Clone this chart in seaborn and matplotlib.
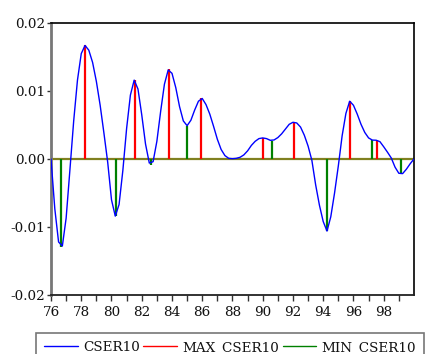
import numpy as np
import pandas as pd
import seaborn as sns
import matplotlib.pyplot as plt
from matplotlib.lines import Line2D

# CSER10, quarterly from 1976Q1 (values x 1e-3)
cser10 = [
    0.0, -7.3, -12.2, -12.8,
    -8.7, -1.6, 5.6, 11.6,
    15.5, 16.7, 16.0, 14.2,
    11.4, 7.9, 3.8, -0.5,
    -6.0, -8.4, -6.7, -1.7,
    4.5, 9.4, 11.6, 10.3,
    6.5, 2.2, -0.6, -0.4,
    2.6, 7.0, 11.0, 13.1,
    12.6, 10.5, 7.7, 5.6,
    4.9, 5.7, 7.2, 8.5,
    8.9, 8.0, 6.6, 4.8,
    2.9, 1.4, 0.5, 0.1,
    0.05, 0.1, 0.25, 0.6,
    1.2, 2.0, 2.6, 3.0,
    3.1, 3.0, 2.75, 2.8,
    3.15, 3.7, 4.4, 5.1,
    5.4, 5.3, 4.7, 3.5,
    1.9, -0.2, -3.8, -6.8,
    -9.2, -10.6, -8.5, -5.0,
    -1.0, 3.4, 6.7, 8.5,
    7.9, 6.6, 5.1, 3.9,
    3.1, 2.78, 2.76, 2.55,
    1.8, 1.0, 0.15, -1.2,
    -2.1, -2.15, -1.5, -0.7,
    0.0,
]

# local maxima / minima (year, value x 1e-3)
max_years = [78.22, 81.53, 83.81, 85.95, 90.0, 92.1, 95.77, 97.55]
max_vals = [16.72, 11.58, 13.17, 8.92, 3.1, 5.43, 8.53, 2.76]
min_years = [76.66, 80.27, 82.6, 84.96, 90.6, 94.28, 97.25, 99.14]
min_vals = [-12.97, -8.43, -0.89, 4.88, 2.7, -10.65, 2.76, -2.27]

df = pd.DataFrame({'year': 76 + np.arange(len(cser10)) / 4,
                   'CSER10': np.array(cser10) / 1000})

sns.set_style('white')
plt.rcParams['font.family'] = ['DejaVu Serif']

fig = plt.figure(figsize=(4.33, 3.54), dpi=100)
ax = fig.add_axes([0.1178, 0.1667, 0.8382, 0.7683])

ax.axhline(0, color='#808020', lw=1.6, zorder=1)
ax.vlines(max_years, 0, np.array(max_vals) / 1000, color='red', lw=1.6, zorder=2)
ax.vlines(min_years, 0, np.array(min_vals) / 1000, color='green', lw=1.6, zorder=2)
sns.lineplot(data=df, x='year', y='CSER10', color='blue', lw=1.0, ax=ax, zorder=3)

ax.set_xlim(76, 100)
ax.set_ylim(-0.02, 0.02)
ax.set_xticks(np.arange(76, 100, 2))
ax.set_xticks(np.arange(76, 100, 1), minor=True)
ax.set_xticklabels([str(y) for y in range(76, 100, 2)])
ax.set_yticks([-0.02, -0.01, 0.0, 0.01, 0.02])
ax.set_yticklabels(['-0.02', '-0.01', '0.00', '0.01', '0.02'])
ax.set_xlabel('')
ax.set_ylabel('')

ax.tick_params(axis='both', which='both', direction='out', labelsize=9.7,
               color='#333333', labelcolor='#111111')
ax.tick_params(axis='y', length=3, width=1, pad=1, left=True)
ax.tick_params(axis='x', which='both', length=4, width=1, pad=4, bottom=True)

for s in ['top', 'right']:
    ax.spines[s].set_color('black')
    ax.spines[s].set_linewidth(1.2)
ax.spines['left'].set_color('#777777')
ax.spines['left'].set_linewidth(2)
ax.spines['bottom'].set_color('#222222')
ax.spines['bottom'].set_linewidth(1.3)

handles = [Line2D([], [], color='blue', lw=1),
           Line2D([], [], color='red', lw=1),
           Line2D([], [], color='green', lw=1)]
leg = fig.legend(handles, ['CSER10', 'MAX_CSER10', 'MIN_CSER10'],
                 loc='upper left', bbox_to_anchor=(0.083, 0.0593), ncol=3,
                 frameon=True, fancybox=False, fontsize=9.7, handlelength=2.5,
                 handletextpad=0.4, columnspacing=0.25, borderpad=0.6,
                 borderaxespad=0)
leg.get_frame().set_edgecolor('#555555')
leg.get_frame().set_linewidth(1.2)
for t in leg.get_texts():
    t.set_color('#111111')

fig.savefig('out.png', dpi=100)
